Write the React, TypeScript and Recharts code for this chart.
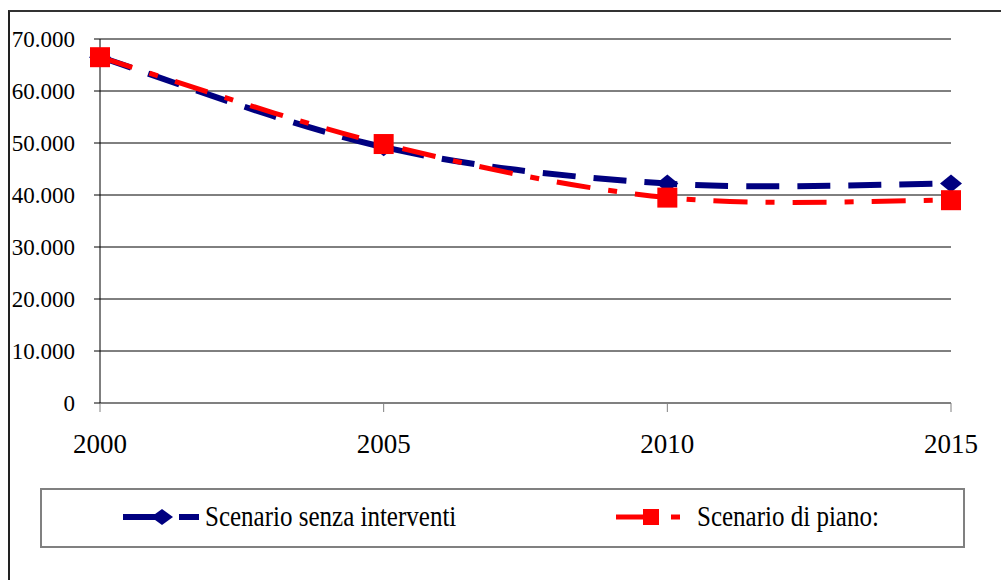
import { LineChart, Line, XAxis, YAxis, CartesianGrid } from "recharts";

const years = ["2000", "2005", "2010", "2015"];
const senzaInterventi = [66500, 49200, 42200, 42200];
const diPiano = [66500, 49800, 39500, 39000];
const yTicks = [0, 10000, 20000, 30000, 40000, 50000, 60000, 70000];

const data = years.map((year, i) => ({
  year,
  senza: senzaInterventi[i],
  piano: diPiano[i],
}));

const FONT = '"Liberation Serif", "Times New Roman", serif';

// 70000 -> "70.000"
const fmt = (v: number) =>
  String(v).replace(/\B(?=(\d{3})+(?!\d))/g, ".");

// smoothed line like the spreadsheet one (catmull-rom through the points)
function smoothCurve(context: any) {
  let pts: [number, number][] = [];
  return {
    areaStart() {},
    areaEnd() {},
    lineStart() {
      pts = [];
    },
    point(x: number, y: number) {
      pts.push([+x, +y]);
    },
    lineEnd() {
      const n = pts.length;
      if (!n) return;
      context.moveTo(pts[0][0], pts[0][1]);
      for (let i = 0; i < n - 1; i++) {
        const p0 = pts[Math.max(0, i - 1)];
        const p1 = pts[i];
        const p2 = pts[i + 1];
        const p3 = pts[Math.min(n - 1, i + 2)];
        context.bezierCurveTo(
          p1[0] + (p2[0] - p0[0]) / 6,
          p1[1] + (p2[1] - p0[1]) / 6,
          p2[0] - (p3[0] - p1[0]) / 6,
          p2[1] - (p3[1] - p1[1]) / 6,
          p2[0],
          p2[1]
        );
      }
    },
  };
}

const Diamond = (props: any) => {
  const { cx, cy } = props;
  if (cx == null || cy == null) return null;
  return (
    <polygon
      points={`${cx - 11},${cy} ${cx},${cy - 9} ${cx + 11},${cy} ${cx},${cy + 9}`}
      fill="#000080"
    />
  );
};

const Square = (props: any) => {
  const { cx, cy } = props;
  if (cx == null || cy == null) return null;
  return <rect x={cx - 10} y={cy - 10} width={20} height={20} fill="#ff0000" />;
};

function LegendBox() {
  const text = {
    position: "absolute" as const,
    top: 12,
    fontFamily: FONT,
    fontSize: 25,
    lineHeight: "30px",
    color: "#000",
    transform: "scaleY(1.15)",
    whiteSpace: "nowrap" as const,
  };
  return (
    <div
      style={{
        position: "absolute",
        left: 40,
        top: 488,
        width: 925,
        height: 60,
        border: "2px solid #808080",
        boxSizing: "border-box",
      }}
    >
      <svg
        width={925}
        height={60}
        style={{ position: "absolute", left: -2, top: -2 }}
      >
        <line x1={83} y1={29} x2={122} y2={29} stroke="#000080" strokeWidth={6} />
        <polygon points="111,29 122,21 133,29 122,37" fill="#000080" />
        <line x1={139} y1={29} x2={159} y2={29} stroke="#000080" strokeWidth={6} />
        <line x1={576} y1={29} x2={605} y2={29} stroke="#ff0000" strokeWidth={5} />
        <rect x={603} y={21} width={16} height={16} fill="#ff0000" />
        <line x1={631} y1={29} x2={640} y2={29} stroke="#ff0000" strokeWidth={5} />
      </svg>
      <span style={{ ...text, left: 163 }}>Scenario senza interventi</span>
      <span style={{ ...text, left: 655 }}>Scenario di piano:</span>
    </div>
  );
}

export default function App() {
  return (
    <div
      style={{
        position: "absolute",
        left: 0,
        top: 0,
        width: 1001,
        height: 580,
        overflow: "hidden",
        background: "#fff",
      }}
    >
      <div
        style={{
          position: "absolute",
          left: 8,
          top: 10,
          width: 1100,
          height: 700,
          borderLeft: "2px solid #222",
          borderTop: "2px solid #333",
        }}
      />
      <div style={{ position: "absolute", left: 0, top: 0 }}>
        <LineChart
          width={1001}
          height={470}
          data={data}
          margin={{ top: 39, right: 50, left: 10, bottom: 17 }}
        >
          <CartesianGrid vertical={false} stroke="#000" strokeWidth={1} />
          <XAxis
            dataKey="year"
            height={50}
            interval={0}
            tickSize={9}
            tickMargin={22}
            axisLine={{ stroke: "#808080", strokeWidth: 2 }}
            tickLine={{ stroke: "#808080", strokeWidth: 1 }}
            tick={{ fill: "#000", fontSize: 27, fontFamily: FONT }}
          />
          <YAxis
            width={90}
            domain={[0, 70000]}
            ticks={yTicks}
            interval={0}
            tickFormatter={fmt}
            tickSize={6}
            tickMargin={19}
            axisLine={{ stroke: "#000", strokeWidth: 1 }}
            tickLine={{ stroke: "#000", strokeWidth: 1 }}
            tick={{ fill: "#000", fontSize: 23, fontFamily: FONT }}
          />
          <Line
            type={smoothCurve as any}
            dataKey="senza"
            stroke="#000080"
            strokeWidth={6}
            strokeDasharray="33 18"
            dot={<Diamond />}
            activeDot={false}
            isAnimationActive={false}
          />
          <Line
            type={smoothCurve as any}
            dataKey="piano"
            stroke="#ff0000"
            strokeWidth={5}
            strokeDasharray="34 18 9 18"
            dot={<Square />}
            activeDot={false}
            isAnimationActive={false}
          />
        </LineChart>
      </div>
      <LegendBox />
    </div>
  );
}
